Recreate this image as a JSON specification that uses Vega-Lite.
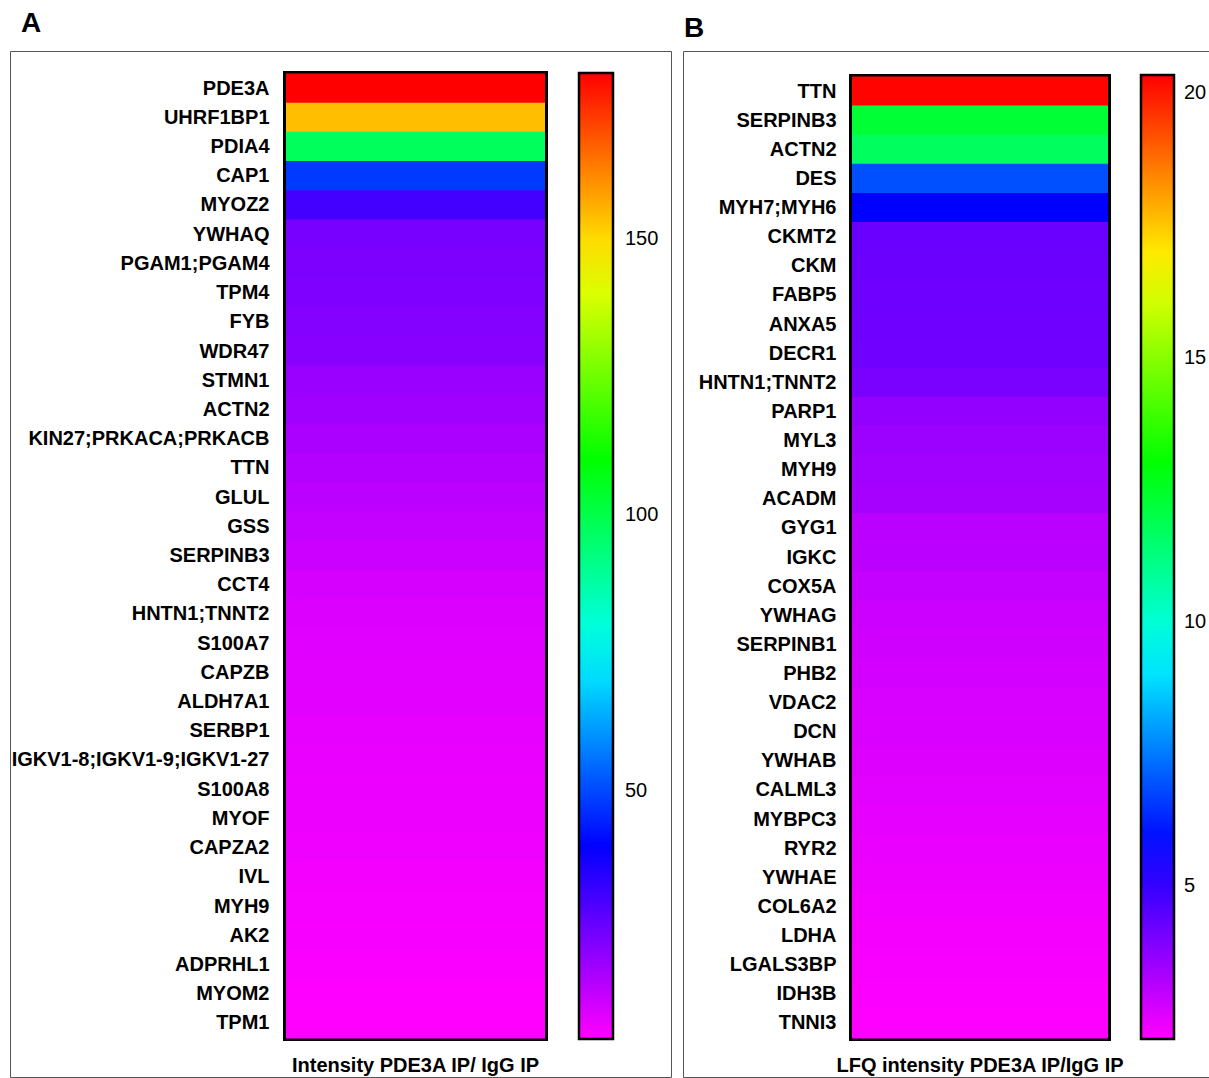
{
  "$schema": "https://vega.github.io/schema/vega-lite/v6.json",
  "padding": {"left": 9, "top": 9, "right": 0, "bottom": 0},
  "spacing": 10,
  "config": {
    "view": {"stroke": "#555", "strokeWidth": 1},
    "font": "Liberation Sans",
    "axis": {"domain": false, "ticks": false, "tickSize": 0, "grid": false, "labelFont": "Liberation Sans", "labelFontWeight": "bold", "labelFontSize": 20, "labelColor": "black", "labelPadding": 0, "labelLimit": 0},
    "legend": {"gradientStrokeColor": "black", "gradientStrokeWidth": 2.5, "labelFont": "Liberation Sans", "labelFontSize": 20, "labelColor": "black", "padding": 0},
    "title": {"font": "Liberation Sans", "fontSize": 28, "fontWeight": "bold", "anchor": "start", "color": "black"}
  },
  "resolve": {"scale": {"color": "independent", "x": "independent", "y": "independent"}, "legend": {"color": "independent"}},
  "hconcat": [
    {
      "title": {"text": "A", "dx": 11, "offset": 13},
      "width": 661,
      "height": 1026,
      "data": {"values": [
        {"gene": "PDE3A", "value": 180, "measure": "Intensity PDE3A IP/ IgG IP"},
        {"gene": "UHRF1BP1", "value": 153.8, "measure": "Intensity PDE3A IP/ IgG IP"},
        {"gene": "PDIA4", "value": 97.6, "measure": "Intensity PDE3A IP/ IgG IP"},
        {"gene": "CAP1", "value": 48, "measure": "Intensity PDE3A IP/ IgG IP"},
        {"gene": "MYOZ2", "value": 30.7, "measure": "Intensity PDE3A IP/ IgG IP"},
        {"gene": "YWHAQ", "value": 23.5, "measure": "Intensity PDE3A IP/ IgG IP"},
        {"gene": "PGAM1;PGAM4", "value": 22.8, "measure": "Intensity PDE3A IP/ IgG IP"},
        {"gene": "TPM4", "value": 22.6, "measure": "Intensity PDE3A IP/ IgG IP"},
        {"gene": "FYB", "value": 21.9, "measure": "Intensity PDE3A IP/ IgG IP"},
        {"gene": "WDR47", "value": 21.3, "measure": "Intensity PDE3A IP/ IgG IP"},
        {"gene": "STMN1", "value": 19, "measure": "Intensity PDE3A IP/ IgG IP"},
        {"gene": "ACTN2", "value": 18, "measure": "Intensity PDE3A IP/ IgG IP"},
        {"gene": "KIN27;PRKACA;PRKACB", "value": 16.5, "measure": "Intensity PDE3A IP/ IgG IP"},
        {"gene": "TTN", "value": 15.3, "measure": "Intensity PDE3A IP/ IgG IP"},
        {"gene": "GLUL", "value": 14.3, "measure": "Intensity PDE3A IP/ IgG IP"},
        {"gene": "GSS", "value": 13.1, "measure": "Intensity PDE3A IP/ IgG IP"},
        {"gene": "SERPINB3", "value": 12, "measure": "Intensity PDE3A IP/ IgG IP"},
        {"gene": "CCT4", "value": 10.6, "measure": "Intensity PDE3A IP/ IgG IP"},
        {"gene": "HNTN1;TNNT2", "value": 9.8, "measure": "Intensity PDE3A IP/ IgG IP"},
        {"gene": "S100A7", "value": 9.25, "measure": "Intensity PDE3A IP/ IgG IP"},
        {"gene": "CAPZB", "value": 9.0, "measure": "Intensity PDE3A IP/ IgG IP"},
        {"gene": "ALDH7A1", "value": 8.7, "measure": "Intensity PDE3A IP/ IgG IP"},
        {"gene": "SERBP1", "value": 8.3, "measure": "Intensity PDE3A IP/ IgG IP"},
        {"gene": "IGKV1-8;IGKV1-9;IGKV1-27", "value": 7.9, "measure": "Intensity PDE3A IP/ IgG IP"},
        {"gene": "S100A8", "value": 7.6, "measure": "Intensity PDE3A IP/ IgG IP"},
        {"gene": "MYOF", "value": 7.3, "measure": "Intensity PDE3A IP/ IgG IP"},
        {"gene": "CAPZA2", "value": 7.05, "measure": "Intensity PDE3A IP/ IgG IP"},
        {"gene": "IVL", "value": 6.6, "measure": "Intensity PDE3A IP/ IgG IP"},
        {"gene": "MYH9", "value": 6.3, "measure": "Intensity PDE3A IP/ IgG IP"},
        {"gene": "AK2", "value": 5.95, "measure": "Intensity PDE3A IP/ IgG IP"},
        {"gene": "ADPRHL1", "value": 5.7, "measure": "Intensity PDE3A IP/ IgG IP"},
        {"gene": "MYOM2", "value": 5.3, "measure": "Intensity PDE3A IP/ IgG IP"},
        {"gene": "TPM1", "value": 5.05, "measure": "Intensity PDE3A IP/ IgG IP"}
      ]},
      "encoding": {
        "x": {"field": "measure", "type": "nominal", "title": null,
              "scale": {"range": [276, 535], "paddingInner": 0, "paddingOuter": 0},
              "axis": {"orient": "bottom", "offset": -6, "labelBaseline": "alphabetic", "labelAngle": 0, "labelAlign": "center"}},
        "y": {"field": "gene", "type": "nominal", "sort": null, "title": null,
              "scale": {"range": [23, 987], "paddingInner": 0, "paddingOuter": 0},
              "axis": {"offset": -259, "labelAlign": "right", "labelBaseline": "middle"}}
      },
      "layer": [
        {"mark": {"type": "rect", "fill": "black", "stroke": "black", "strokeWidth": 6}},
        {"mark": {"type": "rect", "strokeWidth": 0, "height": {"band": 1.04}},
         "encoding": {
           "color": {"field": "value", "type": "quantitative",
            "scale": {"type": "linear", "domain": [5, 40, 75, 110, 145, 180], "range": ["#ff00ff", "#0000ff", "#00ffff", "#00ff00", "#ffff00", "#ff0000"], "interpolate": "rgb", "nice": false, "zero": false},
            "legend": {"orient": "none", "legendX": 569, "legendY": 22, "direction": "vertical", "gradientLength": 966, "gradientThickness": 34, "values": [50, 100, 150], "title": null, "labelOffset": 12}}}}
      ]
    },
    {
      "title": {"text": "B", "dx": 1, "offset": 8},
      "width": 527,
      "height": 1026,
      "data": {"values": [
        {"gene": "TTN", "value": 20.3, "measure": "LFQ intensity PDE3A IP/IgG IP"},
        {"gene": "SERPINB3", "value": 12.3, "measure": "LFQ intensity PDE3A IP/IgG IP"},
        {"gene": "ACTN2", "value": 11.7, "measure": "LFQ intensity PDE3A IP/IgG IP"},
        {"gene": "DES", "value": 6.9, "measure": "LFQ intensity PDE3A IP/IgG IP"},
        {"gene": "MYH7;MYH6", "value": 5.75, "measure": "LFQ intensity PDE3A IP/IgG IP"},
        {"gene": "CKMT2", "value": 4.23, "measure": "LFQ intensity PDE3A IP/IgG IP"},
        {"gene": "CKM", "value": 4.2, "measure": "LFQ intensity PDE3A IP/IgG IP"},
        {"gene": "FABP5", "value": 4.17, "measure": "LFQ intensity PDE3A IP/IgG IP"},
        {"gene": "ANXA5", "value": 4.16, "measure": "LFQ intensity PDE3A IP/IgG IP"},
        {"gene": "DECR1", "value": 4.14, "measure": "LFQ intensity PDE3A IP/IgG IP"},
        {"gene": "HNTN1;TNNT2", "value": 4.0, "measure": "LFQ intensity PDE3A IP/IgG IP"},
        {"gene": "PARP1", "value": 3.63, "measure": "LFQ intensity PDE3A IP/IgG IP"},
        {"gene": "MYL3", "value": 3.52, "measure": "LFQ intensity PDE3A IP/IgG IP"},
        {"gene": "MYH9", "value": 3.43, "measure": "LFQ intensity PDE3A IP/IgG IP"},
        {"gene": "ACADM", "value": 3.37, "measure": "LFQ intensity PDE3A IP/IgG IP"},
        {"gene": "GYG1", "value": 3.09, "measure": "LFQ intensity PDE3A IP/IgG IP"},
        {"gene": "IGKC", "value": 3.06, "measure": "LFQ intensity PDE3A IP/IgG IP"},
        {"gene": "COX5A", "value": 2.94, "measure": "LFQ intensity PDE3A IP/IgG IP"},
        {"gene": "YWHAG", "value": 2.84, "measure": "LFQ intensity PDE3A IP/IgG IP"},
        {"gene": "SERPINB1", "value": 2.77, "measure": "LFQ intensity PDE3A IP/IgG IP"},
        {"gene": "PHB2", "value": 2.72, "measure": "LFQ intensity PDE3A IP/IgG IP"},
        {"gene": "VDAC2", "value": 2.66, "measure": "LFQ intensity PDE3A IP/IgG IP"},
        {"gene": "DCN", "value": 2.63, "measure": "LFQ intensity PDE3A IP/IgG IP"},
        {"gene": "YWHAB", "value": 2.57, "measure": "LFQ intensity PDE3A IP/IgG IP"},
        {"gene": "CALML3", "value": 2.51, "measure": "LFQ intensity PDE3A IP/IgG IP"},
        {"gene": "MYBPC3", "value": 2.46, "measure": "LFQ intensity PDE3A IP/IgG IP"},
        {"gene": "RYR2", "value": 2.4, "measure": "LFQ intensity PDE3A IP/IgG IP"},
        {"gene": "YWHAE", "value": 2.34, "measure": "LFQ intensity PDE3A IP/IgG IP"},
        {"gene": "COL6A2", "value": 2.28, "measure": "LFQ intensity PDE3A IP/IgG IP"},
        {"gene": "LDHA", "value": 2.24, "measure": "LFQ intensity PDE3A IP/IgG IP"},
        {"gene": "LGALS3BP", "value": 2.2, "measure": "LFQ intensity PDE3A IP/IgG IP"},
        {"gene": "IDH3B", "value": 2.15, "measure": "LFQ intensity PDE3A IP/IgG IP"},
        {"gene": "TNNI3", "value": 2.11, "measure": "LFQ intensity PDE3A IP/IgG IP"}
      ]},
      "encoding": {
        "x": {"field": "measure", "type": "nominal", "title": null,
              "scale": {"range": [169, 425], "paddingInner": 0, "paddingOuter": 0},
              "axis": {"orient": "bottom", "offset": -6, "labelBaseline": "alphabetic", "labelAngle": 0, "labelAlign": "center"}},
        "y": {"field": "gene", "type": "nominal", "sort": null, "title": null,
              "scale": {"range": [26, 987], "paddingInner": 0, "paddingOuter": 0},
              "axis": {"offset": -153, "labelAlign": "right", "labelBaseline": "middle"}}
      },
      "layer": [
        {"mark": {"type": "rect", "fill": "black", "stroke": "black", "strokeWidth": 6}},
        {"mark": {"type": "rect", "strokeWidth": 0, "height": {"band": 1.04}},
         "encoding": {
           "color": {"field": "value", "type": "quantitative",
            "scale": {"type": "linear", "domain": [2.1, 5.75, 9.4, 13.05, 16.7, 20.35], "range": ["#ff00ff", "#0000ff", "#00ffff", "#00ff00", "#ffff00", "#ff0000"], "interpolate": "rgb", "nice": false, "zero": false},
            "legend": {"orient": "none", "legendX": 458, "legendY": 24, "direction": "vertical", "gradientLength": 964, "gradientThickness": 33, "values": [5, 10, 15, 20], "title": null, "labelOffset": 10}}}}
      ]
    }
  ]
}
